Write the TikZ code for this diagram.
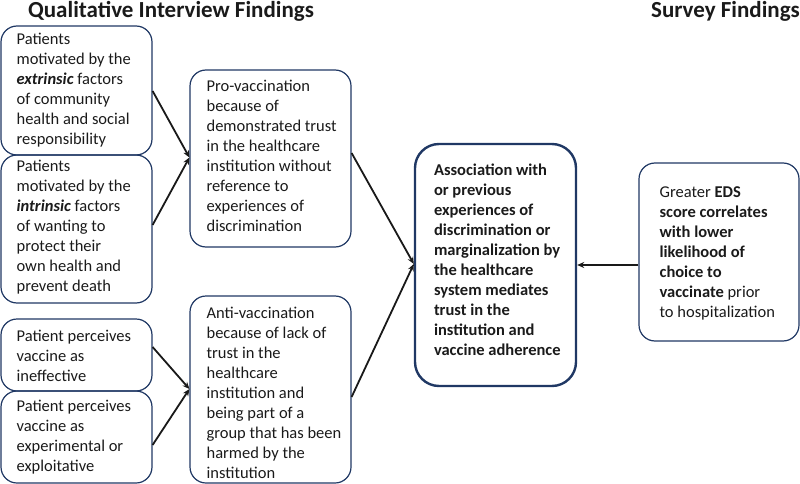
\documentclass[tikz,border=0pt]{standalone}
\usepackage{fontspec}
\setmainfont{Carlito}
\usetikzlibrary{arrows.meta}
\definecolor{navy}{HTML}{203864}
\definecolor{txt}{HTML}{1A1A1A}
\tikzset{
  box/.style={draw=navy, line width=1.2pt, rounded corners=16pt, inner sep=0pt},
  mainbox/.style={box, line width=2.4pt, rounded corners=24pt},
  btext/.style={align=left, anchor=west, inner sep=0pt, text=txt, font=\fontsize{16.5}{20}\selectfont},
  arr/.style={draw=black!90, line width=1.8pt, -{Stealth[length=7pt,width=6pt]}},
  ttl/.style={font=\fontsize{23}{26}\selectfont\bfseries, text=txt, inner sep=0pt}
}
\begin{document}
\begin{tikzpicture}[x=1pt,y=-1pt]
\useasboundingbox (0,0) rectangle (800,484);
\node[ttl] (t1) at (171,11) {Qualitative Interview Findings};
\node[ttl, anchor=east] (t2) at (800,11) {Survey Findings};

\node[box, minimum width=151, minimum height=129] (b1) at (76.5,90.5) {};
\node[btext] (b1t) at ([xshift=16pt]b1.west) {Patients\\motivated by the\\\textbf{\textit{extrinsic}} factors\\of community\\health and social\\responsibility};
\node[box, minimum width=151, minimum height=148] (b2) at (76.5,229) {};
\node[btext] (b2t) at ([xshift=16pt,yshift=2pt]b2.west) {Patients\\motivated by the\\\textbf{\textit{intrinsic}} factors\\of wanting to\\protect their\\own health and\\prevent death};
\node[box, minimum width=151, minimum height=72] (b3) at (76.5,355) {};
\node[btext] (b3t) at ([xshift=16pt,yshift=-1pt]b3.west) {Patient perceives\\vaccine as\\ineffective};
\node[box, minimum width=151, minimum height=92] (b4) at (76.5,437) {};
\node[btext] (b4t) at ([xshift=16pt]b4.west) {Patient perceives\\vaccine as\\experimental or\\exploitative};

\node[box, minimum width=161, minimum height=177] (pro) at (270.5,158.5) {};
\node[btext] (prot) at ([xshift=17pt,yshift=3pt]pro.west) {Pro-vaccination\\because of\\demonstrated trust\\in the healthcare\\institution without\\reference to\\experiences of\\discrimination};
\node[box, minimum width=161, minimum height=187] (anti) at (270.5,389.5) {};
\node[btext] (antit) at ([xshift=17pt,yshift=-3pt]anti.west) {Anti-vaccination\\because of lack of\\trust in the\\healthcare\\institution and\\being part of a\\group that has been\\harmed by the\\institution};

\node[mainbox, minimum width=161, minimum height=242] (main) at (495.5,265) {};
\node[btext, font=\fontsize{16.5}{20}\selectfont\bfseries] (maint) at ([xshift=20pt,yshift=5pt]main.west) {Association with\\or previous\\experiences of\\discrimination or\\marginalization by\\the healthcare\\system mediates\\trust in the\\institution and\\vaccine adherence};

\node[box, minimum width=160, minimum height=178] (eds) at (719,252) {};
\node[btext] (edst) at ([xshift=21pt,yshift=-1pt]eds.west) {Greater \textbf{EDS}\\\textbf{score correlates}\\\textbf{with lower}\\\textbf{likelihood of}\\\textbf{choice to}\\\textbf{vaccinate} prior\\to hospitalization};

\draw[arr] ([yshift=-0.5pt]b1.east) -- ([yshift=1pt]pro.west);
\draw[arr] ([yshift=4pt]b2.east) -- ([yshift=1pt]pro.west);
\draw[arr] ([yshift=8pt]b3.east) -- ([yshift=0.5pt]anti.west);
\draw[arr] ([yshift=-8pt]b4.east) -- ([yshift=0.5pt]anti.west);
\draw[arr] ([yshift=5.5pt]pro.east) -- ([yshift=1pt]main.west);
\draw[arr] ([yshift=-7.5pt]anti.east) -- ([yshift=1pt]main.west);
\draw[arr] (eds.west |- main.east) -- (main.east);
\end{tikzpicture}
\end{document}
